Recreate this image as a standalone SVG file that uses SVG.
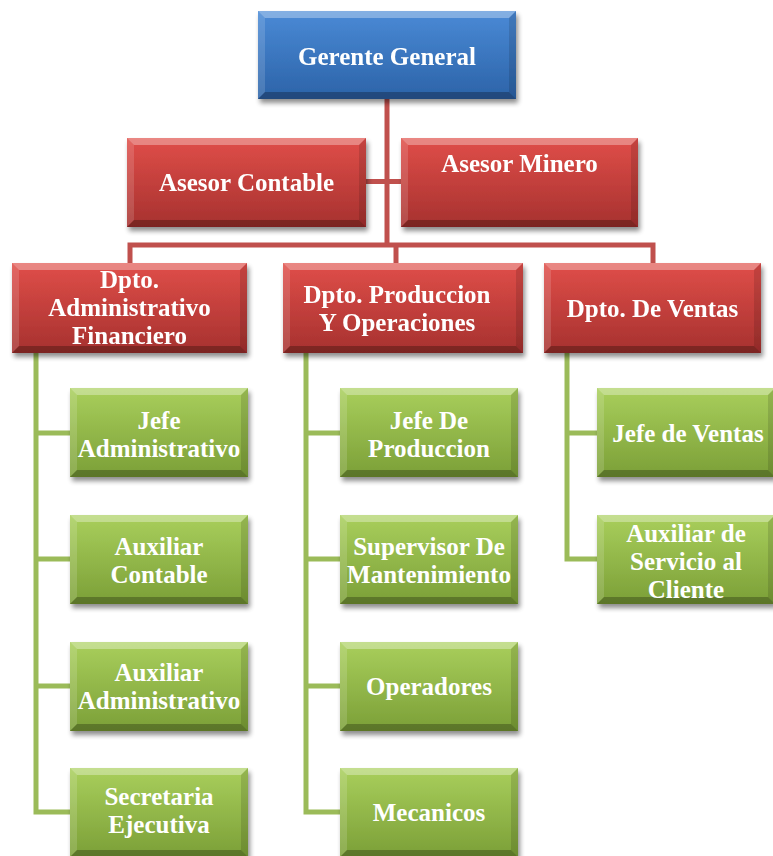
<svg xmlns="http://www.w3.org/2000/svg" xmlns:xlink="http://www.w3.org/1999/xlink" width="773" height="856" viewBox="0 0 773 856">
<style>
.t{font-family:"Liberation Serif","Times New Roman",serif;font-weight:bold;font-size:25px;fill:#fff;text-anchor:middle}
.bt{fill:#fff;fill-opacity:.32}
.bl{fill:#fff;fill-opacity:.14}
.br{fill:#000;fill-opacity:.12}
.bb{fill:#000;fill-opacity:.26}
.red{fill:none;stroke:#c0504d;stroke-width:5;stroke-linejoin:miter}
.grn{fill:none;stroke:#9bbb59;stroke-width:5;stroke-linejoin:miter}
</style>
<defs>
<linearGradient id="gB" x1="0" y1="0" x2="0" y2="1"><stop offset="0" stop-color="#4a8ad6"/><stop offset="1" stop-color="#2c63a8"/></linearGradient>
<linearGradient id="gR" x1="0" y1="0" x2="0" y2="1"><stop offset="0" stop-color="#e04e49"/><stop offset="1" stop-color="#a6312f"/></linearGradient>
<linearGradient id="gG" x1="0" y1="0" x2="0" y2="1"><stop offset="0" stop-color="#a9cf5c"/><stop offset="1" stop-color="#7b9f37"/></linearGradient>
<filter id="sh" x="-10%" y="-10%" width="125%" height="140%">
<feGaussianBlur in="SourceAlpha" stdDeviation="2.5"/>
<feOffset dx="2" dy="4" result="o"/>
<feComponentTransfer><feFuncA type="linear" slope="0.45"/></feComponentTransfer>
<feMerge><feMergeNode/><feMergeNode in="SourceGraphic"/></feMerge>
</filter>
<g id="gbox">
<rect width="178" height="89" fill="url(#gG)"/>
<polygon class="bt" points="0,0 178,0 171,7 7,7"/>
<polygon class="bl" points="0,0 7,7 7,82 0,89"/>
<polygon class="br" points="178,0 178,89 171,82 171,7"/>
<polygon class="bb" points="0,89 7,82 171,82 178,89"/>
</g>
</defs>
<rect width="773" height="856" fill="#fff"/>
<g id="connectors">
<path class="red" d="M387,99 V245"/>
<path class="red" d="M366,181.5 H401"/>
<path class="red" d="M130,263 V245 H653 V263"/>
<path class="red" d="M396,245 V263"/>
<path class="grn" d="M36,353 V812 H70 M36,433 H70 M36,559 H70 M36,686 H70"/>
<path class="grn" d="M306,353 V812 H340 M306,433 H340 M306,559 H340 M306,686 H340"/>
<path class="grn" d="M567,353 V559 H597 M567,433 H597"/>
</g>
<g id="gerente" filter="url(#sh)">
<rect x="258" y="11" width="258" height="88" fill="url(#gB)"/>
<polygon class="bt" points="258,11 516,11 509,18 265,18"/>
<polygon class="bl" points="258,11 265,18 265,92 258,99"/>
<polygon class="br" points="516,11 516,99 509,92 509,18"/>
<polygon class="bb" points="258,99 265,92 509,92 516,99"/>
<text class="t" x="387" y="65">Gerente General</text>
</g>
<g id="asesor-contable" filter="url(#sh)">
<rect x="127" y="138" width="239" height="89" fill="url(#gR)"/>
<polygon class="bt" points="127,138 366,138 359,145 134,145"/>
<polygon class="bl" points="127,138 134,145 134,220 127,227"/>
<polygon class="br" points="366,138 366,227 359,220 359,145"/>
<polygon class="bb" points="127,227 134,220 359,220 366,227"/>
<text class="t" x="246.5" y="191">Asesor Contable</text>
</g>
<g id="asesor-minero" filter="url(#sh)">
<rect x="401" y="138" width="237" height="89" fill="url(#gR)"/>
<polygon class="bt" points="401,138 638,138 631,145 408,145"/>
<polygon class="bl" points="401,138 408,145 408,220 401,227"/>
<polygon class="br" points="638,138 638,227 631,220 631,145"/>
<polygon class="bb" points="401,227 408,220 631,220 638,227"/>
<text class="t" x="519.5" y="172">Asesor Minero</text>
</g>
<g id="dpto-admin" filter="url(#sh)">
<rect x="12" y="263" width="235" height="90" fill="url(#gR)"/>
<polygon class="bt" points="12,263 247,263 240,270 19,270"/>
<polygon class="bl" points="12,263 19,270 19,346 12,353"/>
<polygon class="br" points="247,263 247,353 240,346 240,270"/>
<polygon class="bb" points="12,353 19,346 240,346 247,353"/>
<text class="t" x="129.5" y="288">Dpto.<tspan x="129.5" y="316">Administrativo</tspan><tspan x="129.5" y="344">Financiero</tspan></text>
</g>
<g id="dpto-prod" filter="url(#sh)">
<rect x="283" y="263" width="240" height="90" fill="url(#gR)"/>
<polygon class="bt" points="283,263 523,263 516,270 290,270"/>
<polygon class="bl" points="283,263 290,270 290,346 283,353"/>
<polygon class="br" points="523,263 523,353 516,346 516,270"/>
<polygon class="bb" points="283,353 290,346 516,346 523,353"/>
<text class="t" x="397" y="302.5">Dpto. Produccion<tspan x="397" y="330.5">Y Operaciones</tspan></text>
</g>
<g id="dpto-ventas" filter="url(#sh)">
<rect x="544" y="263" width="217" height="90" fill="url(#gR)"/>
<polygon class="bt" points="544,263 761,263 754,270 551,270"/>
<polygon class="bl" points="544,263 551,270 551,346 544,353"/>
<polygon class="br" points="761,263 761,353 754,346 754,270"/>
<polygon class="bb" points="544,353 551,346 754,346 761,353"/>
<text class="t" x="652.5" y="317">Dpto. De Ventas</text>
</g>
<g id="jefe-administrativo">
<use xlink:href="#gbox" href="#gbox" x="70" y="388" filter="url(#sh)"/>
<text class="t" x="159" y="429">Jefe<tspan x="159" y="457">Administrativo</tspan></text>
</g>
<g id="auxiliar-contable">
<use xlink:href="#gbox" href="#gbox" x="70" y="515" filter="url(#sh)"/>
<text class="t" x="159" y="555">Auxiliar<tspan x="159" y="583">Contable</tspan></text>
</g>
<g id="auxiliar-administrativo">
<use xlink:href="#gbox" href="#gbox" x="70" y="642" filter="url(#sh)"/>
<text class="t" x="159" y="681">Auxiliar<tspan x="159" y="709">Administrativo</tspan></text>
</g>
<g id="secretaria-ejecutiva">
<use xlink:href="#gbox" href="#gbox" x="70" y="768" filter="url(#sh)"/>
<text class="t" x="159" y="805">Secretaria<tspan x="159" y="833">Ejecutiva</tspan></text>
</g>
<g id="jefe-produccion">
<use xlink:href="#gbox" href="#gbox" x="340" y="388" filter="url(#sh)"/>
<text class="t" x="429" y="429">Jefe De<tspan x="429" y="457">Produccion</tspan></text>
</g>
<g id="supervisor-mantenimiento">
<use xlink:href="#gbox" href="#gbox" x="340" y="515" filter="url(#sh)"/>
<text class="t" x="429" y="555">Supervisor De<tspan x="429" y="583">Mantenimiento</tspan></text>
</g>
<g id="operadores">
<use xlink:href="#gbox" href="#gbox" x="340" y="642" filter="url(#sh)"/>
<text class="t" x="429" y="695">Operadores</text>
</g>
<g id="mecanicos">
<use xlink:href="#gbox" href="#gbox" x="340" y="768" filter="url(#sh)"/>
<text class="t" x="429" y="821">Mecanicos</text>
</g>
<g id="jefe-ventas">
<use xlink:href="#gbox" href="#gbox" x="597" y="388" filter="url(#sh)"/>
<text class="t" x="688" y="442">Jefe de Ventas</text>
</g>
<g id="auxiliar-servicio">
<use xlink:href="#gbox" href="#gbox" x="597" y="515" filter="url(#sh)"/>
<text class="t" x="686" y="541.5">Auxiliar de<tspan x="686" y="569.5">Servicio al</tspan><tspan x="686" y="597.5">Cliente</tspan></text>
</g>
</svg>
